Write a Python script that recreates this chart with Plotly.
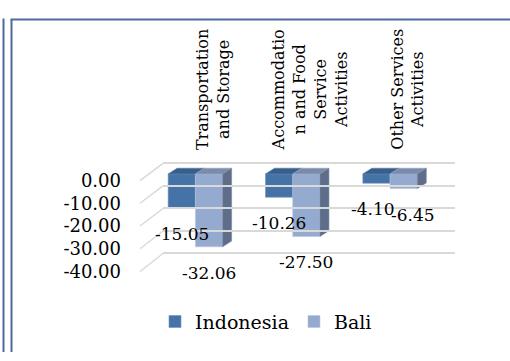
import plotly.graph_objects as go

categories = ["Transportation<br>and Storage",
              "Accommodatio<br>n and Food<br>Service<br>Activities",
              "Other Services<br>Activities"]
indonesia = [-15.05, -10.26, -4.10]
bali = [-32.06, -27.50, -6.45]
tick_vals = [0, -10, -20, -30, -40]
tick_text = ["0.00", "-10.00", "-20.00", "-30.00", "-40.00"]

W, H = 510, 361
FONT = "DejaVu Serif"
C_IND, C_IND_TOP = "#4573A8", "#385E8B"
C_BALI, C_BALI_TOP, C_BALI_SIDE = "#95AACF", "#7A8BAB", "#5E6D89"

def px(p):
    return p / W

def py(p):
    return 1 - p / H

xs = list(range(len(categories)))
bw = 0.28            # bar width in category units
dx, dy = 0.092, 2.5  # depth offsets (x units, value units)

fig = go.Figure()

# front faces (bars)
fig.add_trace(go.Bar(x=[x - bw / 2 for x in xs], y=indonesia, width=bw, name="Indonesia",
                     marker=dict(color=C_IND, line=dict(width=0.6, color="#6F93C0")),
                     xaxis="x", yaxis="y"))
fig.add_trace(go.Bar(x=[x + bw / 2 for x in xs], y=bali, width=bw, name="Bali",
                     marker=dict(color=C_BALI, line=dict(width=0.6, color="#B7C6E0")),
                     xaxis="x", yaxis="y"))

# 3D top / side faces
for x, vi, vb in zip(xs, indonesia, bali):
    x0, x1 = x - bw, x
    fig.add_trace(go.Scatter(x=[x0, x1, x1 + dx, x0 + dx, x0], y=[0, 0, dy, dy, 0],
                             fill="toself", fillcolor=C_IND_TOP, mode="lines",
                             line=dict(width=0.6, color="#5A7FAE"), showlegend=False,
                             hoverinfo="skip", xaxis="x", yaxis="y"))
    x0, x1 = x, x + bw
    fig.add_trace(go.Scatter(x=[x0, x1, x1 + dx, x0 + dx, x0], y=[0, 0, dy, dy, 0],
                             fill="toself", fillcolor=C_BALI_TOP, mode="lines",
                             line=dict(width=0.6, color="#98A6C0"), showlegend=False,
                             hoverinfo="skip", xaxis="x", yaxis="y"))
    fig.add_trace(go.Scatter(x=[x1, x1 + dx, x1 + dx, x1, x1], y=[0, dy, vb + dy, vb, 0],
                             fill="toself", fillcolor=C_BALI_SIDE, mode="lines",
                             line=dict(width=0.6, color="#7A88A2"), showlegend=False,
                             hoverinfo="skip", xaxis="x", yaxis="y"))

# data labels (Bali label nudged right where the two labels would collide)
annotations = []
for x, vi, vb in zip(xs, indonesia, bali):
    close = abs(vi - vb) < 5
    for xx, v, xs_ in ((x - bw / 2, vi, -3 if close else 0), (x + bw / 2, vb, 9 if close else 0)):
        annotations.append(dict(x=xx, y=v, xref="x", yref="y", text=f"{v:.2f}",
                                showarrow=False, yshift=-26, xshift=xs_, yanchor="middle",
                                font=dict(family=FONT, size=17, color="#000000")))

# category labels (rotated, above plot)
for x, c in zip(xs, categories):
    annotations.append(dict(x=x + 0.175, y=py(150), xref="x", yref="paper", text=c,
                            showarrow=False, textangle=-90, xanchor="center",
                            yanchor="bottom", align="center",
                            font=dict(family=FONT, size=16, color="#000000")))

# dummy traces for the auxiliary axes
fig.add_trace(go.Scatter(x=[0], y=[0], mode="markers", marker=dict(opacity=0),
                         showlegend=False, hoverinfo="skip", xaxis="x2", yaxis="y2"))
fig.add_trace(go.Scatter(x=[0], y=[0], mode="markers", marker=dict(opacity=0),
                         showlegend=False, hoverinfo="skip", xaxis="x3", yaxis="y3"))

# front-plane value mapping (tick labels) and back wall (gridlines)
front0, front_k = 180.0, 2.4
back0, back_k = 162.0, 2.375
ext = 0.5

shapes = []
for v in tick_vals:
    shapes.append(dict(type="line", xref="paper", yref="paper",
                       x0=px(140), y0=py(front0 - front_k * v),
                       x1=px(163), y1=py(back0 - back_k * v),
                       line=dict(color="#D9D9D9", width=1.5)))
# outer frame lines
frame = "#4A6C9C"
shapes.append(dict(type="line", xref="paper", yref="paper", x0=px(3.5), x1=px(3.5),
                   y0=py(9), y1=0, line=dict(color=frame, width=2)))
shapes.append(dict(type="line", xref="paper", yref="paper", x0=px(11.5), x1=px(11.5),
                   y0=py(10), y1=0, line=dict(color=frame, width=2)))
shapes.append(dict(type="line", xref="paper", yref="paper", x0=px(10.5), x1=1,
                   y0=py(10), y1=py(10), line=dict(color=frame, width=2)))

bar_top = 173 - 2.4 * 4
bar_bot = 173 + 2.4 * 40

fig.update_layout(
    width=W, height=H,
    margin=dict(l=0, r=0, t=0, b=0),
    paper_bgcolor="white", plot_bgcolor="rgba(0,0,0,0)",
    barmode="overlay",
    showlegend=True,
    legend=dict(orientation="h", x=px(266), xanchor="center", y=py(329), yanchor="middle",
                font=dict(family=FONT, size=19, color="#000000"), traceorder="normal",
                itemwidth=30),
    xaxis=dict(domain=[px(146.75), px(438.75)], range=[-0.5, 2.5], visible=False,
               anchor="y"),
    yaxis=dict(domain=[py(bar_bot), py(bar_top)], range=[-40, 4], visible=False,
               anchor="x"),
    xaxis2=dict(domain=[px(122), px(130)], range=[0, 1], visible=False, anchor="y2"),
    yaxis2=dict(domain=[py(front0 + front_k * (40 + ext)), py(front0 - front_k * ext)],
                range=[-40 - ext, ext], anchor="x2", tickvals=tick_vals, ticktext=tick_text,
                showgrid=False, zeroline=False, showline=False, ticks="",
                tickfont=dict(family=FONT, size=18, color="#000000")),
    xaxis3=dict(domain=[px(163), px(455)], range=[0, 1], visible=False, anchor="y3"),
    yaxis3=dict(domain=[py(back0 + back_k * (40 + ext)), py(back0 - back_k * ext)],
                range=[-40 - ext, ext], anchor="x3", tickvals=tick_vals, showticklabels=False,
                showgrid=True, gridcolor="#D9D9D9", gridwidth=1.5, zeroline=False,
                showline=False, ticks=""),
    annotations=annotations,
    shapes=shapes,
)

fig.write_html("out.html")
